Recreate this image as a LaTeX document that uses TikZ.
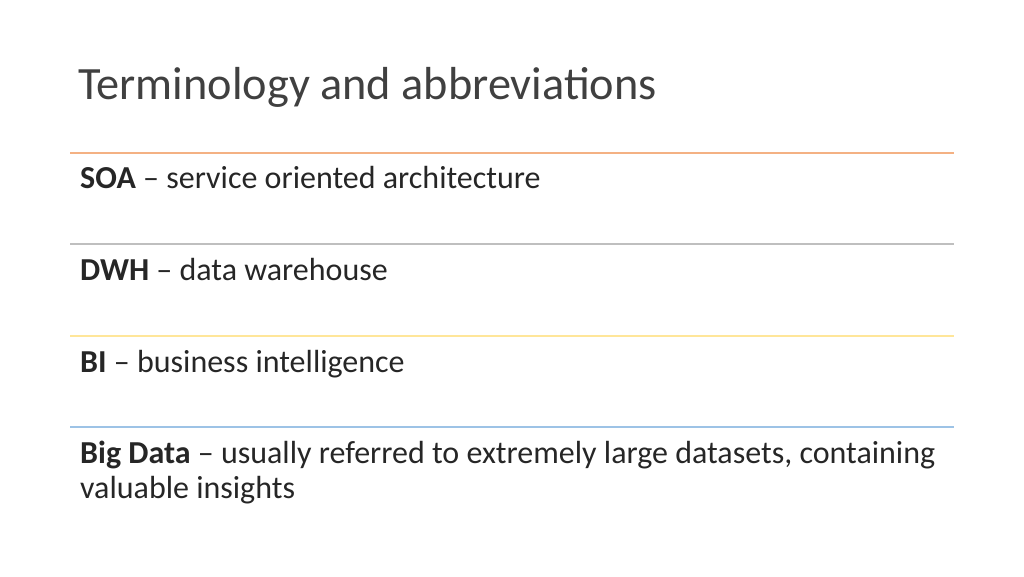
\documentclass[tikz,border=0pt]{standalone}
\usepackage{fontspec}
\setmainfont{Carlito}
\definecolor{txt}{HTML}{262626}
\definecolor{ttl}{HTML}{404040}
\definecolor{lorange}{HTML}{F4B183}
\definecolor{lgray}{HTML}{BFBFBF}
\definecolor{lyellow}{HTML}{FFE699}
\definecolor{lblue}{HTML}{9DC3E6}
\begin{document}
\begin{tikzpicture}[x=1pt,y=1pt,
  body/.style={anchor=base west,inner sep=0pt,font=\fontsize{32}{35}\selectfont,text=txt,align=left},
  sep/.style={line width=1.2pt}]
\useasboundingbox (0,0) rectangle (1024,576);
\node[anchor=base west,inner sep=0pt,font=\fontsize{46.3}{50}\selectfont,text=ttl] (title) at (78,476) {Terminology and abbreviations};
\coordinate (l1a) at (70,423); \coordinate (l1b) at (954,423);
\coordinate (l2a) at (70,332); \coordinate (l2b) at (954,332);
\coordinate (l3a) at (70,240); \coordinate (l3b) at (954,240);
\coordinate (l4a) at (70,149); \coordinate (l4b) at (954,149);
\draw[sep,lorange] (l1a) -- (l1b);
\draw[sep,lgray] (l2a) -- (l2b);
\draw[sep,lyellow] (l3a) -- (l3b);
\draw[sep,lblue] (l4a) -- (l4b);
\node[body] (soa) at (80,387) {\textbf{SOA} – service oriented architecture};
\node[body] (dwh) at (80,295) {\textbf{DWH} – data warehouse};
\node[body] (bi) at (80,204) {\textbf{BI} – business intelligence};
\node[body] (bd) at (80,78) {\textbf{Big Data} – usually referred to extremely large datasets, containing\\valuable insights};
\end{tikzpicture}
\end{document}
